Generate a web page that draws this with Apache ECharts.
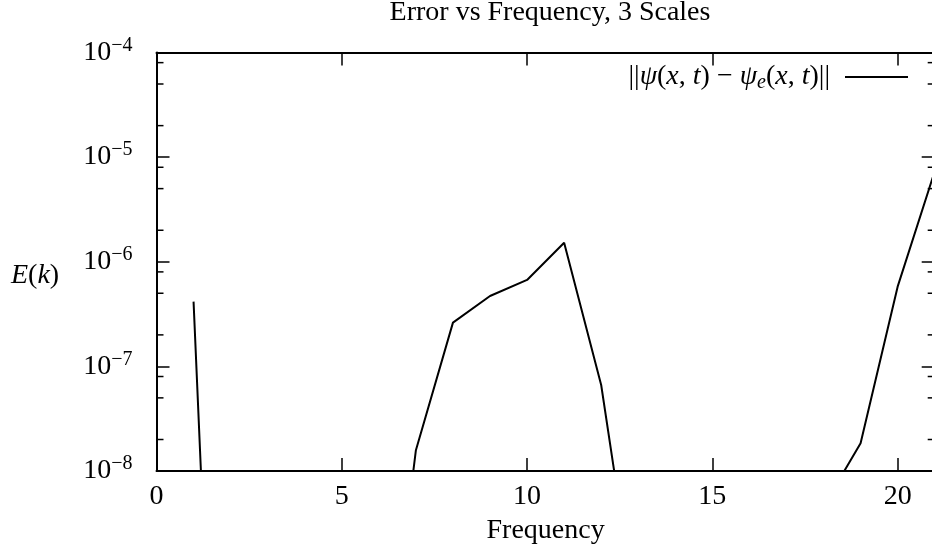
<!DOCTYPE html>
<html>
<head>
<meta charset="utf-8">
<script src="https://cdn.jsdelivr.net/npm/echarts@6/dist/echarts.min.js"></script>
<style>html,body{margin:0;padding:0;background:#fff}#c{width:932px;height:552px}</style>
</head>
<body>
<div id="c"></div>
<script>
// ---- data ----
const frequency = [1, 2, 3, 4, 5, 6, 7, 8, 9, 10, 11, 12, 13, 14, 15, 16, 17, 18, 19, 20, 21];
const errorValues = [4.16e-7, 3e-15, 1e-13, 1e-13, 1e-12, 2.2e-11, 1.58e-8, 2.62e-7, 4.71e-7, 6.7e-7, 1.52e-6,
                     6.64e-8, 3e-10, 1e-11, 1e-11, 1e-11, 1e-10, 4.6e-9, 1.84e-8, 5.78e-7, 7.3e-6];
const xTickValues = [0, 5, 10, 15, 20];
const yTickExponents = [-8, -7, -6, -5, -4];
const yMinorTickValues = [2e-8, 5e-8, 8e-8, 2e-7, 5e-7, 8e-7, 2e-6, 5e-6, 8e-6, 2e-5, 5e-5, 8e-5];
const seriesName = '||ψ(x,t) − ψe(x,t)||';
const titleText = 'Error vs Frequency, 3 Scales';
const xLabelText = 'Frequency';

const FONT = '"Liberation Serif", "Times New Roman", serif';
const BIG = 28, SMALL = 20;

const chart = echarts.init(document.getElementById('c'));
const lineData = frequency.map((f, i) => [f, errorValues[i]]);

function xAxisBase() {
  return {
    type: 'value', min: 0, max: 21, interval: 5,
    axisLine: { show: true, onZero: false, lineStyle: { color: '#000', width: 2 } },
    axisTick: { show: true, inside: true, length: 13, lineStyle: { color: '#000', width: 1.5 } },
    minorTick: { show: false },
    splitLine: { show: false }
  };
}
function yAxisBase() {
  return {
    type: 'log', logBase: 10, min: 1e-8, max: 1e-4,
    axisLine: { show: true, onZero: false, lineStyle: { color: '#000', width: 2 } },
    axisTick: { show: true, inside: true, length: 13, lineStyle: { color: '#000', width: 1.5 } },
    minorTick: { show: false },
    splitLine: { show: false }
  };
}

chart.setOption({
  animation: false,
  backgroundColor: '#fff',
  title: {
    text: titleText, left: 545, top: -6, textAlign: 'center',
    textStyle: { fontFamily: FONT, fontSize: BIG, fontWeight: 'normal', color: '#000' }
  },
  grid: { left: 156.5, right: -2.7, top: 52.5, bottom: 81, containLabel: false, outerBoundsMode: 'none' },
  legend: {
    data: [seriesName], right: 24, top: 63, align: 'right', padding: 0,
    icon: 'rect', itemWidth: 63, itemHeight: 2,
    itemStyle: { color: '#000' },
    formatter: () => '{r|||}{i|ψ}{r|(}{i|x}{r|, }{i|t}{r|) − }{i|ψ}{s|e}{r|(}{i|x}{r|, }{i|t}{r|)||}',
    textStyle: {
      padding: [0, 10, 0, 0],
      rich: {
        r: { fontFamily: FONT, fontSize: BIG, color: '#000' },
        i: { fontFamily: FONT, fontSize: BIG, fontStyle: 'italic', color: '#000' },
        s: { fontFamily: FONT, fontSize: SMALL, fontStyle: 'italic', color: '#000', padding: [12, 0, 0, 0] }
      }
    }
  },
  xAxis: [
    Object.assign(xAxisBase(), {
      position: 'bottom',
      name: xLabelText, nameLocation: 'middle', nameGap: 46,
      nameTextStyle: { fontFamily: FONT, fontSize: BIG, color: '#000' },
      axisLabel: {
        show: true, margin: 12, showMaxLabel: false,
        fontFamily: FONT, fontSize: BIG, color: '#000',
        formatter: v => (xTickValues.indexOf(v) >= 0 ? String(v) : '')
      }
    }),
    Object.assign(xAxisBase(), { position: 'top', axisLabel: { show: false } })
  ],
  yAxis: [
    Object.assign(yAxisBase(), {
      position: 'left',
      axisLabel: {
        show: true, margin: 24,
        formatter: v => {
          const e = Math.round(Math.log10(v));
          if (yTickExponents.indexOf(e) < 0) return '';
          return '{b|10}{s|−' + Math.abs(e) + '}';
        },
        rich: {
          b: { fontFamily: FONT, fontSize: BIG, color: '#000' },
          s: { fontFamily: FONT, fontSize: SMALL, color: '#000', padding: [0, 0, 14, 0] }
        }
      }
    }),
    Object.assign(yAxisBase(), { position: 'right', axisLabel: { show: false } })
  ],
  graphic: [
    {
      type: 'text', left: 11, top: 262, silent: true,
      style: {
        text: '{i|E}{r|(}{i|k}{r|)}', verticalAlign: 'middle',
        rich: {
          r: { fontFamily: FONT, fontSize: BIG, fill: '#000', color: '#000' },
          i: { fontFamily: FONT, fontSize: BIG, fontStyle: 'italic', fill: '#000', color: '#000' }
        }
      }
    }
  ],
  series: [
    {
      name: seriesName, type: 'line', data: lineData,
      xAxisIndex: 0, yAxisIndex: 0,
      symbol: 'none', showSymbol: false, clip: true,
      lineStyle: { color: '#000', width: 2 },
      itemStyle: { color: '#000' }
    },
    {
      name: 'minorTicks', type: 'custom', xAxisIndex: 0, yAxisIndex: 0, silent: true,
      data: yMinorTickValues.map(v => [0, v]),
      renderItem: (params, api) => {
        const y = api.coord([0, api.value(1)])[1];
        const cs = params.coordSys;
        return {
          type: 'group',
          children: [
            { type: 'line', shape: { x1: cs.x, y1: y, x2: cs.x + 7, y2: y }, style: { stroke: '#000', lineWidth: 1.5 } },
            { type: 'line', shape: { x1: cs.x + cs.width, y1: y, x2: cs.x + cs.width - 7, y2: y }, style: { stroke: '#000', lineWidth: 1.5 } }
          ]
        };
      }
    }
  ]
});
</script>
</body>
</html>
